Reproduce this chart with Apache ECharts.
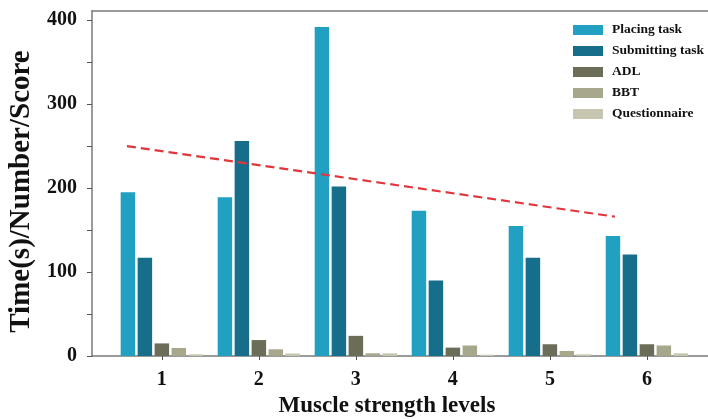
<!DOCTYPE html>
<html>
<head>
<meta charset="utf-8">
<script src="https://cdn.jsdelivr.net/npm/echarts@6/dist/echarts.min.js"></script>
<style>
  html, body { margin: 0; padding: 0; background: #fff; }
  #chart { width: 708px; height: 419px; }
</style>
</head>
<body>
<div id="chart"></div>
<script>
// Muscle strength levels on the x axis
const levels = [1, 2, 3, 4, 5, 6];
const seriesNames = ['Placing task', 'Submitting task', 'ADL', 'BBT', 'Questionnaire'];
const placingTask = [195, 189, 392, 173, 155, 143];
const submittingTask = [117, 256, 202, 90, 117, 121];
const adl = [15, 19, 24, 10, 14, 14];
const bbt = [9.5, 8, 3.2, 12.5, 6, 12.5];
const questionnaire = [2, 3, 3.2, 1.5, 2, 3.2];
// Trend line end points (level, value)
const trendLevels = [0.64, 5.67];
const trendValues = [250, 166];
const yTicks = [0, 100, 200, 300, 400];
const yMinorTicks = [0, 50, 100, 150, 200, 250, 300, 350, 400];

const colors = ['#22a0c2', '#176e8b', '#6b6d58', '#a7a78c', '#c6c6b0'];
const valueSets = [placingTask, submittingTask, adl, bbt, questionnaire];
const serifBold = { fontFamily: 'Liberation Serif', fontWeight: 'bold', color: '#111' };

const chart = echarts.init(document.getElementById('chart'), null, { renderer: 'canvas' });

const barSeries = seriesNames.map((name, i) => ({
  name: name,
  type: 'bar',
  xAxisIndex: 0,
  barWidth: 14.5,
  barGap: '17%',
  itemStyle: { color: colors[i] },
  data: levels.map((lv, j) => [lv, valueSets[i][j]])
}));

const option = {
  animation: false,
  backgroundColor: '#fff',
  grid: { left: 92, top: 11, right: 0, bottom: 63, containLabel: false, outerBoundsMode: 'none' },
  legend: {
    data: seriesNames,
    orient: 'vertical',
    left: 568,
    top: 18,
    itemWidth: 30,
    itemHeight: 10,
    itemGap: 7,
    icon: 'rect',
    textStyle: Object.assign({ fontSize: 13.5, padding: [0, 0, 0, 4] }, serifBold)
  },
  xAxis: [{
    type: 'value',
    min: 0.28,
    max: 6.63,
    name: 'Muscle strength levels',
    nameLocation: 'middle',
    nameGap: 39,
    nameTextStyle: Object.assign({ fontSize: 23, padding: [0, 26, 0, 0] }, serifBold),
    axisLine: { show: true, lineStyle: { color: '#7a7a7a', width: 1.5 } },
    axisTick: { show: true, length: 4, customValues: levels, lineStyle: { color: '#555' } },
    axisLabel: { customValues: levels, margin: 14, fontSize: 20, fontFamily: 'Liberation Serif', fontWeight: 'bold', color: '#111' },
    splitLine: { show: false }
  }, {
    type: 'value',
    position: 'top',
    min: 0.28,
    max: 6.63,
    axisLine: { show: true, onZero: false, lineStyle: { color: '#7a7a7a', width: 1.5 } },
    axisTick: { show: false },
    axisLabel: { show: false },
    splitLine: { show: false }
  }],
  yAxis: {
    type: 'value',
    min: 0,
    max: 411,
    name: 'Time(s)/Number/Score',
    nameLocation: 'middle',
    nameGap: 51,
    nameTextStyle: Object.assign({ fontSize: 29, padding: [0, 16, 0, 0] }, serifBold),
    axisLine: { show: true, lineStyle: { color: '#7a7a7a', width: 1.5 } },
    axisTick: { show: true, length: 5, customValues: yMinorTicks, lineStyle: { color: '#555' } },
    axisLabel: { customValues: yTicks, margin: 15, fontSize: 20, fontFamily: 'Liberation Serif', fontWeight: 'bold', color: '#111' },
    splitLine: { show: false }
  },
  series: barSeries.concat([{
    name: 'trend',
    type: 'line',
    xAxisIndex: 0,
    symbol: 'none',
    silent: true,
    lineStyle: { color: '#e0363c', width: 2.2, type: [9, 5] },
    data: trendLevels.map((lv, i) => [lv, trendValues[i]])
  }])
};

chart.setOption(option);
</script>
</body>
</html>
